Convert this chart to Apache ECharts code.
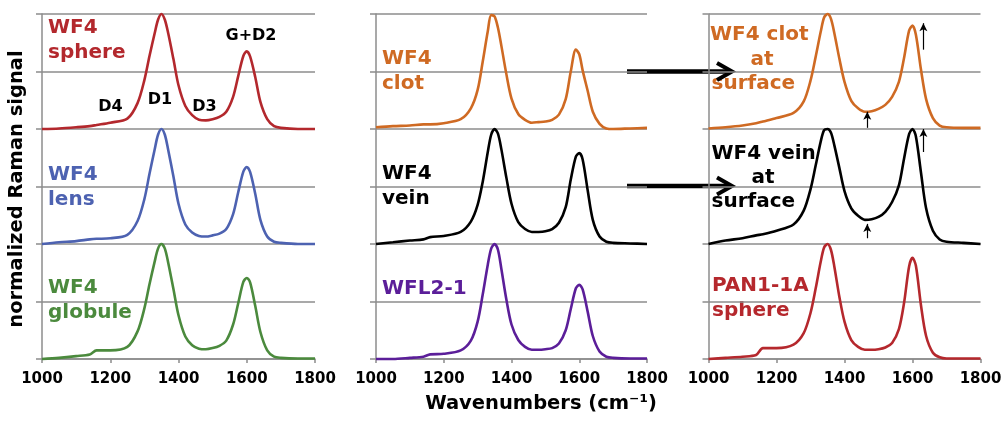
<!DOCTYPE html>
<html lang="en">
<head>
	<meta charset="UTF-8">
	<script src="https://cdn.jsdelivr.net/npm/echarts@6/dist/echarts.min.js"></script>
	<title>Raman spectra</title>
</head>
<body style="margin:0;background:#fff">
	<div id="main" style="width:1006px;height:424px;"></div>
	<script>
		// wavenumber grid shared by all spectra (cm-1)
		var wavenumbers = [1000, 1050, 1100, 1140, 1160, 1200, 1250, 1280, 1300, 1315, 1330, 1340, 1350, 1360, 1370, 1385, 1400, 1420, 1440, 1460, 1480, 1500, 1520, 1540, 1560, 1575, 1590, 1600, 1610, 1625, 1640, 1660, 1680, 1700, 1750, 1800];
		var xTicks = [1000, 1200, 1400, 1600, 1800];

		// normalized signal (0..2 per trace, before stacking offset)
		var wf4Sphere = [0, 0.01, 0.03, 0.05, 0.07, 0.11, 0.18, 0.45, 0.85, 1.27, 1.66, 1.9, 2.0, 1.9, 1.66, 1.22, 0.76, 0.4, 0.24, 0.16, 0.15, 0.17, 0.21, 0.3, 0.56, 0.92, 1.27, 1.35, 1.26, 0.9, 0.47, 0.17, 0.05, 0.02, 0, 0];
		var wf4Lens = [0, 0.03, 0.05, 0.08, 0.09, 0.1, 0.16, 0.4, 0.78, 1.22, 1.64, 1.9, 2.0, 1.9, 1.63, 1.18, 0.7, 0.34, 0.2, 0.14, 0.13, 0.15, 0.18, 0.26, 0.52, 0.9, 1.26, 1.34, 1.25, 0.87, 0.42, 0.13, 0.04, 0.02, 0, 0];
		var wf4Globule = [0, 0.02, 0.05, 0.08, 0.15, 0.15, 0.21, 0.48, 0.88, 1.3, 1.69, 1.92, 2.0, 1.92, 1.67, 1.22, 0.76, 0.39, 0.24, 0.18, 0.17, 0.19, 0.23, 0.32, 0.6, 0.97, 1.34, 1.41, 1.33, 0.92, 0.47, 0.15, 0.04, 0.02, 0.01, 0.01];
		var wf4Clot = [0.03, 0.05, 0.06, 0.08, 0.08, 0.1, 0.17, 0.36, 0.68, 1.17, 1.7, 1.98, 1.96, 1.76, 1.45, 0.95, 0.53, 0.26, 0.16, 0.11, 0.12, 0.13, 0.16, 0.25, 0.52, 1.0, 1.38, 1.3, 1.02, 0.66, 0.3, 0.09, 0.01, 0, 0.01, 0.02];
		var wf4Vein = [0, 0.03, 0.06, 0.08, 0.12, 0.14, 0.21, 0.39, 0.68, 1.08, 1.6, 1.9, 2.0, 1.92, 1.65, 1.15, 0.7, 0.38, 0.26, 0.21, 0.21, 0.22, 0.26, 0.37, 0.64, 1.12, 1.52, 1.58, 1.47, 0.93, 0.42, 0.13, 0.04, 0.02, 0.01, 0];
		var wfl21 = [0, 0, 0.02, 0.04, 0.08, 0.09, 0.15, 0.32, 0.65, 1.12, 1.64, 1.92, 2.0, 1.9, 1.57, 1.03, 0.6, 0.33, 0.21, 0.16, 0.16, 0.17, 0.19, 0.27, 0.5, 0.87, 1.23, 1.29, 1.21, 0.82, 0.4, 0.13, 0.04, 0.02, 0.01, 0.01];
		var wf4ClotSurface = [0.01, 0.03, 0.06, 0.1, 0.13, 0.19, 0.28, 0.48, 0.84, 1.25, 1.69, 1.94, 2.0, 1.92, 1.67, 1.22, 0.82, 0.49, 0.36, 0.3, 0.31, 0.35, 0.42, 0.56, 0.82, 1.23, 1.71, 1.8, 1.64, 1.03, 0.52, 0.19, 0.06, 0.03, 0.02, 0.02];
		var wf4VeinSurface = [0, 0.06, 0.1, 0.15, 0.17, 0.23, 0.34, 0.58, 0.95, 1.36, 1.78, 1.98, 2.0, 1.94, 1.72, 1.32, 0.92, 0.62, 0.49, 0.42, 0.43, 0.47, 0.56, 0.73, 1.02, 1.48, 1.91, 2.0, 1.87, 1.24, 0.62, 0.23, 0.08, 0.04, 0.02, 0];
		var pan11aSphere = [0, 0.02, 0.04, 0.07, 0.19, 0.19, 0.25, 0.45, 0.8, 1.22, 1.69, 1.94, 2.0, 1.9, 1.61, 1.08, 0.65, 0.33, 0.21, 0.16, 0.16, 0.17, 0.2, 0.28, 0.52, 0.97, 1.61, 1.76, 1.62, 0.93, 0.4, 0.11, 0.03, 0.01, 0.01, 0.01];

		// vertical offset of the top, middle and bottom trace in every panel
		var offsets = [4, 2, 0];

		var panels = [
			[wf4Sphere, wf4Lens, wf4Globule],
			[wf4Clot, wf4Vein, wfl21],
			[wf4ClotSurface, wf4VeinSurface, pan11aSphere]
		];
		var colors = [
			['#b3282d', '#4d62b1', '#4b8a3d'],
			['#cf6a23', '#000000', '#5b1e99'],
			['#cf6a23', '#000000', '#b5282d']
		];

		var FONT = '"DejaVu Sans", sans-serif';
		var GRID_COLOR = '#8c8c8c';

		var grids = [
			{ left: 42, top: 14, width: 273, height: 345 },
			{ left: 376, top: 14, width: 271, height: 345 },
			{ left: 708.5, top: 14, width: 272, height: 345 }
		];

		var xAxes = grids.map(function (g, i) {
			return {
				gridIndex: i, type: 'value', min: xTicks[0], max: xTicks[xTicks.length - 1], interval: 200,
				axisLine: { lineStyle: { color: GRID_COLOR, width: 1.5 } },
				axisTick: { length: 4, lineStyle: { color: GRID_COLOR, width: 1.5 } },
				axisLabel: {
					color: '#000', fontFamily: FONT, fontWeight: 'bold', fontSize: 15, margin: 13,
					formatter: function (v) { return String(v); }
				},
				splitLine: { show: false }
			};
		});
		var yAxes = grids.map(function (g, i) {
			return {
				gridIndex: i, type: 'value', min: 0, max: 6, interval: 1,
				axisLine: { show: true, lineStyle: { color: GRID_COLOR, width: 1.5 } },
				axisTick: { show: true, length: 6, lineStyle: { color: GRID_COLOR, width: 1.5 } },
				axisLabel: { show: false },
				splitLine: { lineStyle: { color: GRID_COLOR, width: 1.5 } }
			};
		});

		var series = [];
		panels.forEach(function (traces, p) {
			traces.forEach(function (vals, r) {
				series.push({
					type: 'line', xAxisIndex: p, yAxisIndex: p,
					data: wavenumbers.map(function (w, i) { return [w, vals[i] + offsets[r]]; }),
					showSymbol: false, smooth: 0.3, clip: false,
					lineStyle: { color: colors[p][r], width: 2.6 },
					silent: true
				});
			});
		});

		// small arrows in the right panel (data coordinates)
		var arrowStyle = {
			silent: true, symbol: ['none', 'arrow'], symbolSize: [6, 8],
			lineStyle: { color: '#000', width: 1.2, type: 'solid' }, label: { show: false }
		};
		series[6].markLine = Object.assign({ data: [
			[{ coord: [1632, 5.38] }, { coord: [1632, 5.84] }],
			[{ coord: [1467, 4.02] }, { coord: [1467, 4.3] }]
		] }, arrowStyle);
		series[7].markLine = Object.assign({ data: [
			[{ coord: [1632, 3.6] }, { coord: [1632, 4.0] }],
			[{ coord: [1467, 2.1] }, { coord: [1467, 2.35] }]
		] }, arrowStyle);

		function label(text, x, y, color, size, align, rotation) {
			return {
				type: 'text', x: x, y: y, rotation: rotation || 0, silent: true,
				style: {
					text: text, fill: color, font: 'bold ' + size + 'px ' + FONT,
					textAlign: align || 'left', textVerticalAlign: 'middle', lineHeight: 25
				}
			};
		}

		var graphic = [
			label('normalized Raman signal', 16.5, 189, '#000', 19.5, 'center', Math.PI / 2),
			label('Wavenumbers (cm\u207B\u00B9)', 541, 404, '#000', 19.5, 'center'),
			label('WF4\nsphere', 48, 40.5, colors[0][0], 20),
			label('WF4\nlens', 48, 187, colors[0][1], 20),
			label('WF4\nglobule', 48, 300.5, colors[0][2], 20),
			label('G+D2', 251, 36, '#000', 16, 'center'),
			label('D4', 110.5, 106.5, '#000', 16, 'center'),
			label('D1', 160, 99.5, '#000', 16, 'center'),
			label('D3', 204.5, 106.5, '#000', 16, 'center'),
			label('WF4\nclot', 382, 71.5, colors[1][0], 20),
			label('WF4\nvein', 382, 186.5, colors[1][1], 20),
			label('WFL2-1', 382, 288.5, colors[1][2], 20),
			label('WF4 clot', 710, 35, colors[2][0], 20),
			label('at', 762, 60, colors[2][0], 20, 'center'),
			label('surface', 711.5, 84, colors[2][0], 20),
			label('WF4 vein', 711.5, 154, colors[2][1], 20),
			label('at', 763, 178, colors[2][1], 20, 'center'),
			label('surface', 711.5, 202, colors[2][1], 20),
			label('PAN1-1A\nsphere', 712, 298.5, colors[2][2], 20)
		];

		// big arrows from the middle panel to the right panel
		[71.5, 186].forEach(function (y) {
			graphic.push({
				type: 'line', silent: true,
				shape: { x1: 627, y1: y, x2: 731, y2: y },
				style: { stroke: '#000', lineWidth: 4.5 }
			});
			graphic.push({
				type: 'polyline', silent: true,
				shape: { points: [[717, y - 8.5], [732, y], [717, y + 8.5]] },
				style: { stroke: '#000', lineWidth: 4, fill: null }
			});
		});

		var chart = echarts.init(document.getElementById('main'));
		chart.setOption({
			animation: false,
			backgroundColor: '#fff',
			grid: grids,
			xAxis: xAxes,
			yAxis: yAxes,
			series: series,
			graphic: graphic
		});
	</script>
</body>
</html>
